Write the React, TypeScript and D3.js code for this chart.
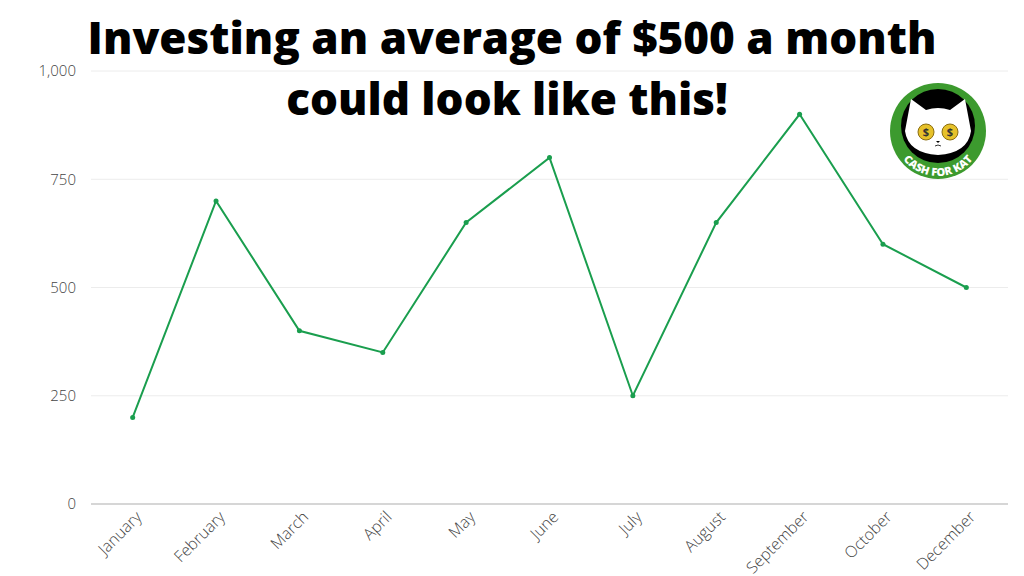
import React from "react";
import * as d3 from "d3";

const months = ["January","February","March","April","May","June","July","August","September","October","December"];
const values = [200,700,400,350,650,800,250,650,900,600,500];
const yTicks = [0,250,500,750,1000];
const titleLines = ["Investing an average of $500 a month","could look like this!"];

const W = 1024, H = 576;
const left = 91, right = 1008, top = 71, bottom = 504;

export default function App() {
  const x = d3.scaleBand<string>().domain(months).range([left, right]);
  const y = d3.scaleLinear().domain([0, 1000]).range([bottom, top]);
  const cx = (m: string) => (x(m) as number) + x.bandwidth() / 2;
  const line = d3.line<number>().x((_, i) => cx(months[i])).y((v) => y(v));
  const fmt = d3.format(",");
  const lc = 938, lcy = 131;
  const ar = 45;
  const arc = `M ${lc - ar} ${lcy} A ${ar} ${ar} 0 0 0 ${lc + ar} ${lcy}`;
  return (
    <svg width={W} height={H} style={{ position: "absolute", left: 0, top: 0, background: "#fff" }}
      fontFamily="'Open Sans', sans-serif">
      <rect width={W} height={H} fill="#fff" />
      {yTicks.map((t) => (
        <g key={t}>
          <line x1={left} x2={right} y1={y(t)} y2={y(t)} stroke={t === 0 ? "#d6d6d6" : "#ececec"} strokeWidth={t === 0 ? 2 : 1} />
          <text x={76} y={y(t)} dy="0.35em" textAnchor="end" fontSize={15} fontWeight={300} fill="#444">{fmt(t)}</text>
        </g>
      ))}
      {months.map((m) => (
        <text key={m} transform={`translate(${cx(m) + 6},${514}) rotate(-45)`} textAnchor="end" dy="0.35em" fontSize={16} fontWeight={300} fill="#444">{m}</text>
      ))}
      <path d={line(values) || ""} fill="none" stroke="#1a9e4e" strokeWidth={2} />
      {values.map((v, i) => (
        <circle key={i} cx={cx(months[i])} cy={y(v)} r={2.5} fill="#1a9e4e" />
      ))}
      {/* logo */}
      <g>
        <circle cx={lc} cy={lcy} r={48} fill="#3c9a2e" />
        <circle cx={lc} cy={lcy - 5} r={37} fill="#000" />
        <path d={`M ${lc - 33} ${lcy} L ${lc - 27} ${lcy - 32} L ${lc - 12} ${lcy - 21} Q ${lc} ${lcy - 25} ${lc + 12} ${lcy - 21} L ${lc + 27} ${lcy - 32} L ${lc + 33} ${lcy} Q ${lc + 30} ${lcy + 22} ${lc} ${lcy + 24} Q ${lc - 30} ${lcy + 22} ${lc - 33} ${lcy} Z`} fill="#fff" />
        <circle cx={lc - 12} cy={lcy + 1} r={8} fill="#e6c12a" stroke="#8a6d10" strokeWidth={1} />
        <circle cx={lc + 12} cy={lcy + 1} r={8} fill="#e6c12a" stroke="#8a6d10" strokeWidth={1} />
        <text x={lc - 12} y={lcy + 1} dy="0.35em" textAnchor="middle" fontSize={11} fontWeight={700} fill="#333">$</text>
        <text x={lc + 12} y={lcy + 1} dy="0.35em" textAnchor="middle" fontSize={11} fontWeight={700} fill="#333">$</text>
        <path d={`M ${lc - 2} ${lcy + 10} L ${lc + 2} ${lcy + 10} L ${lc} ${lcy + 12} Z`} fill="#000" />
        <path d={`M ${lc - 3} ${lcy + 15} Q ${lc} ${lcy + 13} ${lc + 3} ${lcy + 15}`} fill="none" stroke="#000" strokeWidth={0.8} />
        <defs><path id="logoArc" d={arc} /></defs>
        <text fontSize={11} fontWeight={800} fill="#fff">
          <textPath href="#logoArc" startOffset="50%" textAnchor="middle">CASH FOR KAT</textPath>
        </text>
      </g>
      {titleLines.map((t, i) => (
        <text key={t} x={512 - i * 5} y={54 + i * 61} textAnchor="middle" fontSize={44} fontWeight={800} fill="#000">{t}</text>
      ))}
    </svg>
  );
}
